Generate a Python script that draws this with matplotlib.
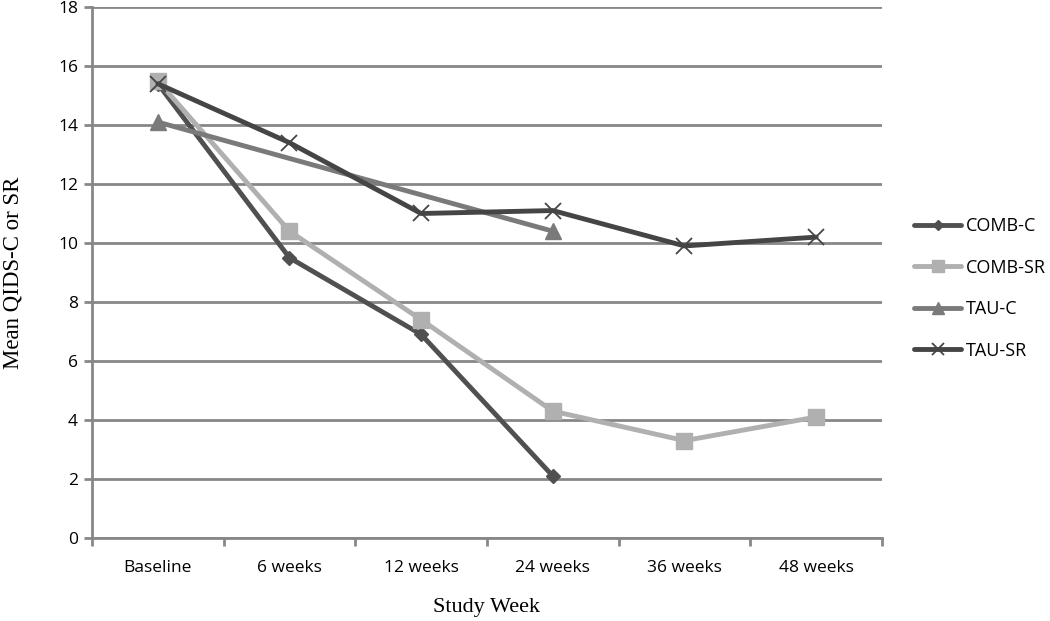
import numpy as np
import matplotlib.pyplot as plt

# Данные
weeks = ['Baseline', '6 weeks', '12 weeks', '24 weeks', '36 weeks', '48 weeks']
comb_c = [15.4, 9.5, 6.9, 2.1, np.nan, np.nan]
comb_sr = [15.5, 10.4, 7.4, 4.3, 3.3, 4.1]
tau_c = [14.1, np.nan, np.nan, 10.4, np.nan, np.nan]
tau_sr = [15.4, 13.4, 11.0, 11.1, 9.9, 10.2]

tick_font = 'Open Sans'
label_font = 'Liberation Serif'

fig = plt.figure(figsize=(10.5, 6.21), dpi=100)
ax = fig.add_axes([0.0876, 0.1337, 0.7524, 0.8550])

x = np.arange(len(weeks))

def draw(y, color, marker, ms, label, mew=1.0):
    y = np.array(y, dtype=float)
    ok = ~np.isnan(y)
    # пропуски соединяем прямой, как в Excel
    ax.plot(x[ok], y[ok], color=color, lw=3.5, marker=marker, ms=ms,
            mec=color, mfc=color, mew=mew, label=label, solid_capstyle='round',
            zorder=3)

draw(comb_c, '#505050', 'D', 7, 'COMB-C')
draw(comb_sr, '#b0b0b0', 's', 11, 'COMB-SR')
draw(tau_c, '#7a7a7a', '^', 11, 'TAU-C')
draw(tau_sr, '#454545', 'x', 11, 'TAU-SR', mew=1.3)

ax.set_xlim(-0.5, len(weeks) - 0.5)
ax.set_ylim(0, 18)
ax.set_yticks(np.arange(0, 19, 2))
ax.set_xticks(x)
ax.set_xticklabels(weeks)
ax.set_xticks(np.arange(-0.5, len(weeks), 1.0), minor=True)
ax.tick_params(axis='x', which='major', length=0, pad=16)
ax.tick_params(axis='x', which='minor', length=6, width=2, color='#878787')
ax.tick_params(axis='y', length=6, width=2, color='#878787', pad=4)
for lab in ax.get_xticklabels() + ax.get_yticklabels():
    lab.set_fontfamily(tick_font)
    lab.set_fontsize(12.5)

ax.grid(axis='y', color='#878787', lw=2, zorder=0)
ax.set_axisbelow(True)
for side in ['top', 'right']:
    ax.spines[side].set_visible(False)
for side in ['left', 'bottom']:
    ax.spines[side].set_color('#878787')
    ax.spines[side].set_linewidth(2)

ax.set_xlabel('Study Week', fontfamily=label_font, fontsize=16, labelpad=16)
ax.set_ylabel('Mean QIDS-C or SR', fontfamily=label_font, fontsize=16.5, labelpad=25)

leg = ax.legend(loc='center left', bbox_to_anchor=(1.02, 0.47), frameon=False,
                prop={'family': tick_font, 'size': 13}, handlelength=2.6,
                labelspacing=1.3, markerscale=0.8, handletextpad=0.25)

fig.savefig('out.png', dpi=100)
